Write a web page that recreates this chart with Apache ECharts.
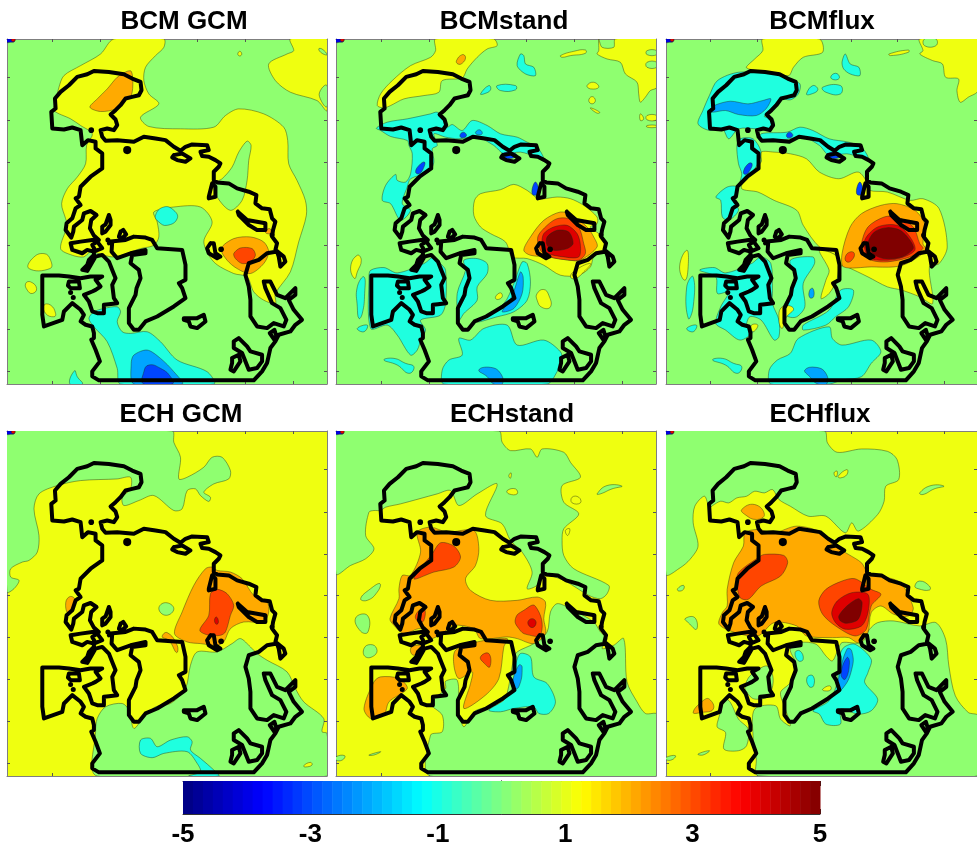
<!DOCTYPE html>
<html><head><meta charset="utf-8">
<style>html,body{margin:0;padding:0;background:#fff;overflow:hidden}#c{width:977px;height:848px}</style>
<script src="https://cdn.jsdelivr.net/npm/echarts@6/dist/echarts.min.js"></script>
</head><body><div id="c"></div>
<script>
const titles=['BCM GCM','BCMstand','BCMflux','ECH GCM','ECHstand','ECHflux'];
const cbarLabels=[-5,-3,-1,1,3,5];
// band level -> contour fill
const levelColor={'-5':'#00008f','-4':'#0000df','-3':'#0045ff','-2':'#00a5ff','-1':'#1fffdf',0:'#8fff70',1:'#efff10',2:'#ffaa00',3:'#ff4500',4:'#df0000',5:'#800000'};
const baseLevel=[0,0,0,1,1,1];
// trace origins of each panel's polygons
const origin=[[19,25],[16,25],[16,25],[19,16],[16,16],[16,14]];
const coastOrigin=[19,16];
const archOrigin=[-71,-479];
const xTicks=[136,281,426,571,716,861];
const yTicks=[116,243,369,495,621,747,873,999];

// coastline polylines
const coastMain=[155,285,152,235,165,225,163,195,180,175,205,155,230,130,260,122,280,112,325,115,370,122,395,135,420,145,423,170,415,185,395,190,375,195,360,215,345,230,330,243,345,258,350,275,340,290,320,285,300,290,305,310,315,322,350,320,400,325,430,310,465,315,495,320,520,340,540,352,555,340,575,333,620,335,625,350,600,355,605,368,625,370,645,380,660,390,655,400,640,415,640,440,650,447,685,450,710,465,745,475,768,485,765,510,785,525,808,528,815,555,825,565,818,590,815,610,830,630,825,650,850,670,855,685,840,700,835,670,830,655,800,660,775,680,745,690,735,725,745,760,750,800,750,850,770,880,800,885,820,870,850,880,858,860,840,825,815,810,795,765,790,745,810,745,830,785,855,795,885,765,885,785,865,800,880,830,905,860,885,875,870,895,835,905,825,925,810,945,800,990,785,1015,760,1042,295,1042,275,1030,275,1015,298,985,285,950,272,920];
const coastWest=[155,285,190,288,215,282,240,290,245,335,262,320,285,325,285,345,305,360,305,405,270,430,240,460,235,490,225,495];
const coastArch=[190,420,190,405,185,385,165,380,150,370,160,350,150,335,125,315,100,340,95,365,40,385,35,350,35,232,85,232,115,235,150,240,180,235,215,235,195,245,210,265,195,275,185,280,160,290,175,310,185,340,200,345,220,345,220,320,235,318,260,315,250,300,245,260,255,240,245,215,235,190,215,170,195,175,170,218,155,215,170,200,175,185,190,170,190,160,170,155,155,165,125,155,120,135,150,130,185,125,205,125,190,112,178,90,182,65,198,50,180,38,160,45,155,65,130,85,128,100,122,118,105,95,108,75,125,60,135,30,150,20,135,0];
const coastGreenland=[235,135,245,130,243,160,260,180,300,165,345,155,345,165,305,170,300,195,325,215,330,240,318,270,315,290,295,330,295,375,310,395,325,395,345,370,380,355,430,325,465,300,455,270,445,255,465,245,465,200,455,155,380,150,365,125,345,118,310,115,285,125,240,130,235,135];
const archIslands=[
 [215,85,225,78,235,50,240,65,240,80,225,100,215,105,215,85],
 [115,250,145,250,148,270,120,270,112,262,115,250],
 [270,100,278,95,287,108,275,120,265,115,270,100],
 [185,140,200,130,215,150,195,158,185,140]
];
const coastIslands=[
 [520,365,545,360,570,375,555,385,530,380,515,372,520,365],
 [625,490,635,450,645,460,645,490,625,495,625,490],
 [712,535,740,560,795,570,795,590,770,590,745,575,715,545,712,535],
 [630,630,640,630,645,660,660,670,650,675,625,660,620,645,630,630],
 [550,855,590,855,610,845,615,865,590,885,570,880,565,865,550,860,550,855],
 [700,925,715,915,740,940,750,955,785,965,785,985,770,1005,745,1010,725,960,700,945,700,925],
 [695,975,715,965,720,985,700,1015,690,1010,695,990,695,975],
 [808,900,822,890,830,915,822,920,808,900]
];
const coastDots=[[380,350,13],[272,290,9],[662,648,9],[815,605,8],[322,620,8],[210,778,8],[218,793,8]];

const cornerMark=[[-4,[0,0,22,0,22,8,10,10,0,10]],[4,[14,0,24,0,22,7,14,6]]];

const panel1=[
[1,[340,25,490,25,490,50,465,75,435,110,430,150,445,190,475,220,420,260,445,288,540,295,640,290,675,255,715,235,790,250,850,290,862,330,865,400,890,450,915,510,918,555,895,635,870,725,825,790,825,820,790,810,760,785,740,740,700,730,640,695,610,635,635,575,600,530,520,530,460,545,470,575,475,620,460,645,420,655,340,680,270,665,250,680,215,675,180,655,200,585,195,565,183,520,200,475,230,440,255,400,258,345,275,310,240,285,210,265,160,240,165,215,175,170,190,135,240,105,300,70]],
[0,[740,332,752,345,745,390,740,450,725,510,690,540,650,500,640,460,665,445,695,410,715,365]],
[1,[870,25,880,60,860,70,805,100,825,150,870,185,950,210,980,240,980,25]],
[0,[980,165,960,180,960,205,980,228]],
[0,[955,55,965,55,980,72,965,68]],
[1,[712,70,718,62,724,70,718,76]],
[2,[380,122,392,122,397,150,392,195,370,210,345,235,300,243,268,230,290,205,320,175,350,140]],
[-1,[465,555,490,530,520,540,530,565,500,585,475,575]],
[1,[85,715,95,685,130,670,150,690,148,715]],
[1,[75,760,90,755,108,775,95,790,80,780]],
[1,[130,825,150,825,165,850,160,860,135,850]],
[2,[662,655,700,625,750,620,790,635,805,665,790,700,750,730,710,715,680,690]],
[3,[700,670,720,653,755,655,765,675,750,695,725,700,705,685]],
[2,[795,603,808,595,812,607,800,610]],
[-1,[265,865,280,845,310,835,350,830,360,845,350,875,365,905,390,910,440,905,480,935,530,990,620,1025,640,1062,360,1062,350,1015,320,935,280,890]],
[-2,[392,1000,400,975,440,960,480,985,520,1025,545,1062,400,1062]],
[-3,[430,1025,445,1005,480,1015,510,1040,515,1062,430,1062]],
[-1,[208,1062,222,1022,230,1040,245,1062]]
];

const panel2=[
[1,[315,25,490,25,500,45,470,55,440,80,410,115,395,142,335,150,325,185,280,195,220,205,180,225,160,232,140,225,150,190,185,150,240,105,300,80,315,60]],
[2,[378,90,395,72,405,80,395,98,382,100]],
[1,[805,25,815,50,850,50,855,25,980,25,980,170,960,180,945,200,930,215,925,190,920,155,885,130,870,95,830,85,800,70,805,60]],
[1,[950,255,980,255,980,268,950,268]],[1,[950,285,980,285,980,290,950,290]],[1,[930,250,940,265,930,270]],
[0,[950,60,980,60,980,72,950,72]],[0,[950,95,980,95,980,110,950,110]],
[1,[690,75,730,62,765,58,765,68,720,75,695,80]],[1,[770,165,790,155,805,170,780,175]],[1,[775,210,785,198,795,210,785,220]],[1,[780,232,808,245,800,248]],
[1,[432,510,450,490,510,478,550,462,590,480,625,505,680,500,720,505,760,525,800,560,800,580,780,590,810,615,825,655,790,680,780,710,745,735,690,735,640,705,590,685,545,680,525,635,480,610,450,590,430,555]],
[2,[580,660,600,620,640,570,690,545,725,555,770,590,790,620,800,650,750,690,720,690,650,680,600,675]],
[3,[622,620,650,585,680,565,715,565,745,590,760,640,765,670,745,690,700,688,660,680,630,660]],
[4,[640,610,670,590,710,585,740,610,750,645,745,680,700,680,650,668,635,640]],
[5,[650,620,680,600,715,605,728,640,710,655,670,660,650,645]],
[1,[720,740,735,720,780,700,760,725,735,745]],
[1,[620,790,640,778,655,795,660,830,635,832,620,810]],
[1,[60,710,80,675,92,690,80,725,72,745]],
[1,[495,800,510,788,515,800,500,808]],
[-1,[137,293,170,275,230,265,300,250,320,245,345,265,350,290,365,282,395,300,425,270,470,285,510,310,560,320,590,335,620,350,640,385,620,380,570,365,520,370,490,345,440,320,385,325,345,320,310,310,320,345,305,355,310,395,295,425,240,445,230,470,215,520,240,540,210,570,180,520,155,510,165,465,195,432,200,450,225,455,240,430,245,370,235,345,230,330,180,318,150,300]],
[-3,[255,425,265,405,282,395,278,415,265,430]],
[-3,[510,375,535,365,560,375,530,385]],[-3,[605,490,615,455,625,490]],[-3,[388,315,398,305,408,315,395,322]],[-2,[435,305,448,298,455,310,440,312]],
[-1,[120,720,160,712,200,728,280,700,310,680,330,700,345,720,345,820,330,855,270,870,285,900,272,925,260,960,240,975,200,915,170,885,120,895,115,740]],
[-1,[400,690,440,685,470,700,470,730,440,770,440,810,400,850,385,870,380,790,405,720]],
[-1,[550,760,575,695,590,700,600,755,590,810,550,845,500,860,440,875,520,820]],
[-2,[548,790,570,725,578,740,575,790,550,835,515,845,535,815]],
[-1,[340,1062,335,1020,355,990,395,975,385,925,420,930,460,895,530,885,560,945,640,930,690,965,695,990,680,1025,650,1062]],
[-2,[445,1020,480,1012,510,1030,515,1062,490,1062,470,1040]],
[-1,[160,990,190,985,225,1000,250,1010,235,1030,200,1005]],
[-1,[570,70,580,75,585,100,610,110,615,135,585,130,560,105]],
[-1,[500,165,555,165,555,178,510,180]],[-1,[450,190,475,165,480,178,460,190]],
[-1,[80,770,100,740,102,790,95,850,85,865,80,830]],[-1,[80,895,110,885,100,905]]
];

const panel3=[
[1,[315,25,490,25,500,65,440,80,410,110,395,135,345,125,265,112,290,85,315,60]],
[1,[800,25,810,60,800,70,840,90,870,100,880,140,920,145,915,180,925,215,950,200,980,180,980,25]],
[0,[815,25,850,25,850,45,815,45]],
[1,[250,475,260,445,310,395,310,365,350,365,400,370,450,385,490,425,550,445,610,425,640,460,645,480,700,485,770,510,810,505,860,535,885,650,860,700,830,710,840,820,800,800,745,780,700,770,640,740,575,710,555,705,550,680,490,650,440,585,420,540,350,510,300,485]],
[1,[490,660,545,680,545,745,520,790,495,805,510,750,520,720]],
[2,[560,670,585,590,620,550,680,525,730,520,785,540,815,580,810,640,820,660,760,700,720,710,650,710,565,710]],
[3,[620,640,640,590,690,560,730,560,780,590,800,640,810,655,770,680,700,695,650,690,625,670]],
[4,[630,630,670,590,730,585,770,620,785,660,735,685,680,690,640,680]],
[5,[640,640,660,605,700,592,740,600,770,630,780,655,745,680,690,685,655,670]],
[3,[570,680,585,665,598,670,590,690,575,695]],
[-1,[115,280,130,240,150,195,175,150,240,125,345,128,400,150,430,160,425,190,400,208,370,205,345,230,320,258,345,262,350,290,320,295,300,295,240,295,210,325,190,295,150,300]],
[-2,[150,240,165,225,215,212,270,220,315,210,340,205,325,235,295,255,240,252,200,240,160,245]],
[-1,[310,310,390,305,430,290,470,300,520,325,580,335,620,350,640,385,575,370,520,375,490,345,440,320,380,328,340,328,310,330]],
[-1,[235,345,245,325,285,325,310,370,280,430,245,460,250,430,240,400]],
[-1,[170,500,205,470,235,470,225,510,240,540,210,570,190,560,185,510]],
[-1,[120,720,165,712,200,728,280,700,310,680,340,700,345,780,345,820,365,870,365,920,350,930,310,870,275,860,265,890,285,905,245,930,200,900,170,880,185,830,210,785,175,790,170,740]],
[-1,[340,1062,335,1020,360,990,400,970,425,925,520,890,530,925,560,945,650,930,680,965,650,1000,620,1040,560,1050,520,1062]],
[-1,[440,885,520,840,555,780,595,780,580,830,540,860,510,885,440,900]],
[-2,[445,1020,480,1012,510,1030,512,1062,485,1062,460,1040]],
[-1,[400,690,470,680,475,700,440,760,445,830,420,860,395,860,375,840,400,790,415,740]],
[-1,[160,990,190,985,225,1000,250,1010,235,1030,200,1005]],
[1,[58,710,80,660,85,700,75,750]],
[-1,[80,770,100,740,100,830,85,865]],[-1,[80,895,110,885,100,905]],
[-1,[560,95,570,70,585,100,612,110,615,135,585,130,565,115]],
[-1,[525,140,540,128,552,140,540,148]],[-1,[500,170,555,165,555,190,510,185]],[-1,[450,190,470,165,485,178,460,192]],
[1,[705,70,765,58,765,65,710,75]],
[1,[365,870,375,830,410,835,385,865,375,895]],[1,[280,885,300,885,285,905]],
[-3,[255,425,270,400,282,400,275,420,262,432]],[-3,[605,490,615,455,625,490]],[-3,[510,375,535,365,560,375,530,385]],[-3,[388,315,398,305,408,315,395,322]],
[-2,[460,780,470,775,472,800,460,802]]
];

const panel4=[
[0,[19,16,515,16,520,50,540,95,535,160,560,155,610,125,635,95,665,95,690,135,685,160,640,175,610,200,630,215,625,228,600,210,585,190,560,195,545,250,520,255,460,210,415,225,370,240,365,215,390,190,390,155,350,160,240,165,170,180,115,205,100,250,115,330,110,380,85,405,65,410,30,430,30,455,55,465,40,490,19,500]],
[0,[590,680,650,680,695,655,720,640,750,665,770,685,800,705,860,740,885,790,910,830,970,880,965,920,980,925,980,1053,290,1053,285,920,290,880,315,845,365,835,385,855,400,910,430,875,465,845,510,835,555,790,570,720]],
[-1,[420,985,420,945,450,940,470,965,510,945,560,935,575,950,570,975,600,1000,640,1035,655,1053,565,1053,600,1040,590,1015,560,980,490,985,455,998]],
[1,[910,1022,930,1012,935,1020,915,1026]],
[2,[522,625,545,560,580,480,615,430,635,425,650,435,690,440,725,460,760,510,800,530,805,560,790,590,730,590,690,610,670,650,650,660,600,655,560,650]],
[3,[598,615,625,570,630,505,650,492,680,505,700,540,690,570,675,620,660,630,625,630]],
[4,[642,585,648,575,654,590,648,597]],
[2,[195,540,205,515,222,520,220,545,205,565]],
[2,[485,635,500,622,530,660,528,682,505,645]],
[0,[475,550,495,532,520,550,497,570]]
];

const panel5=[
[0,[16,16,505,16,515,50,540,75,600,70,620,95,635,70,700,80,720,110,750,155,695,180,700,230,745,265,700,310,695,345,700,390,730,430,835,480,830,505,810,520,775,510,700,465,640,450,620,480,590,490,605,440,575,380,540,345,515,295,465,270,500,175,440,205,385,240,360,195,320,205,210,235,165,245,150,255,130,255,115,260,105,330,130,370,105,400,60,420,16,445]],
[0,[650,620,660,560,680,535,720,550,790,590,810,620,830,640,815,670,850,660,880,640,890,770,920,830,945,865,980,868,980,1053,300,1053,300,930,335,920,335,870,300,835,345,790,345,768,380,765,385,855,400,905,430,860,470,845,520,830,550,700,560,680,610,655]],
[2,[215,450,240,450,270,380,260,320,300,305,350,320,430,315,445,370,435,420,405,460,420,495,480,525,560,525,620,515,645,530,640,580,645,625,610,655,560,640,530,635,450,640,430,610,370,600,340,620,300,640,270,610,220,625,190,600,178,580,205,520,205,490]],
[2,[375,675,440,650,530,640,520,665,505,760,465,810,400,850,420,775,425,740,385,760,370,720]],
[2,[100,850,130,770,150,755,205,760,230,790,175,830,160,870,120,880]],
[2,[240,670,260,660,280,665,250,690]],
[3,[250,460,305,385,330,352,370,362,390,395,370,425,310,440]],
[3,[555,580,580,555,615,543,632,625,590,628,565,610]],
[4,[592,592,605,580,617,592,605,607]],
[3,[255,570,280,550,280,585,265,590]],
[3,[450,695,475,685,478,725,462,715]],
[-1,[545,790,555,720,570,685,600,695,610,755,650,775,675,830,655,865,625,865,610,845,550,850,510,860,475,855,520,825]],
[-2,[545,775,565,720,575,725,565,785,550,790]],
[0,[90,520,120,490,148,475,140,500,110,525]],[0,[75,578,110,570,112,620,90,618]],[0,[100,670,120,658,138,670,132,690,105,695]],
[0,[800,205,830,180,875,182,845,190,810,205]],[0,[16,995,42,992,35,1005,16,1005]],[0,[115,990,150,980,130,990]],
[1,[725,215,745,215,750,232,725,232]],[1,[530,195,555,190,560,205,535,205]],[1,[535,150,542,142,540,158]],[1,[705,315,718,310,712,330]]
];

const panel6=[
[0,[16,14,505,14,515,50,545,78,620,68,700,75,730,100,735,160,695,180,690,225,670,265,610,315,590,290,570,320,510,270,455,270,400,240,365,220,345,190,320,200,290,195,265,210,235,215,210,230,185,225,160,238,150,245,135,210,105,240,100,290,115,360,90,400,60,425,16,445]],
[0,[620,650,645,610,670,590,720,585,800,600,850,590,880,640,890,720,910,810,950,860,980,870,980,1050,300,1050,295,1000,285,930,290,850,355,840,370,880,400,900,385,850,370,800,400,770,415,710,400,670,430,650,480,655,510,690,530,705,548,670,560,650]],
[0,[262,775,295,735,335,725,340,800,300,820,270,805]],
[0,[175,890,200,820,215,830,240,880,270,910,265,960,240,975,195,970,200,920,175,905]],
[0,[785,480,800,465,830,480,830,492,795,488]],[0,[800,200,835,178,875,180,845,188,810,205]],[0,[52,488,70,478,70,490,55,495]],[0,[75,578,105,575,110,610,85,590]],[0,[16,995,45,990,35,1002,16,1002]],[0,[115,985,150,975,130,988]],
[1,[548,150,575,130,575,145,555,155]],[1,[535,140,545,135,542,152]],[1,[500,790,522,780,525,792,505,795]],
[2,[205,540,205,490,225,410,255,360,260,320,300,310,350,320,420,300,500,320,530,355,580,385,620,410,640,440,680,450,740,470,780,545,765,570,720,565,680,540,650,560,640,620,610,650,580,635,530,635,450,630,420,600,350,590,300,630,230,620,180,595,190,560]],
[2,[250,250,290,235,320,265,295,280,260,265]],
[2,[100,860,130,825,150,820,162,850,125,860]],
[3,[235,470,240,440,300,395,320,385,380,388,392,410,370,450,310,480,270,520,245,515]],
[3,[488,525,510,490,560,465,600,458,650,490,680,505,650,540,635,610,600,630,540,600,500,565]],
[4,[528,560,545,525,590,500,640,505,640,560,620,600,570,610,540,590]],
[5,[550,570,575,540,610,518,622,530,610,580,575,592,555,585]],
[-1,[470,855,520,825,545,770,550,700,565,665,600,655,650,700,640,740,630,770,670,820,650,855,610,865,555,850,555,895,510,895,490,865]],
[-2,[550,755,575,670,590,675,590,730,560,790,545,785]],
[-3,[557,745,575,695,583,710,570,760]],
[-1,[415,680,430,675,440,700,425,705]],[-1,[452,755,470,750,472,780,458,782]]
];

const panels=[panel1,panel2,panel3,panel4,panel5,panel6];
const gridX=[7,336,666], gridY=[39,431], gridW=320, gridH=345;
const titleCenter=[184,504,822,181,512,820], titleY=[9,402];
const mapW=961, mapH=1037;

function jet(t){const c=x=>Math.round(255*Math.max(0,Math.min(1,1.5-Math.abs(4*t-x))));return `rgb(${c(3)},${c(2)},${c(1)})`;}
const cbarN=64;
const grids=[],xAxes=[],yAxes=[],series=[],titleOpt=[];
const toPairs=(flat,o)=>{const r=[];for(let i=0;i<flat.length;i+=2)r.push([flat[i]-o[0],flat[i+1]-o[1]]);return r;};
const frame='#7f7f7f';
// closed/open coastline, joined across trace frames
const coastData=[];
const pushLine=(pairs,brk)=>{pairs.forEach(q=>coastData.push(q));if(brk)coastData.push([null,null]);};
pushLine(toPairs(coastMain,coastOrigin),false);
pushLine(toPairs(coastArch,archOrigin),false);
pushLine(toPairs(coastWest,coastOrigin).reverse(),true);
pushLine(toPairs(coastGreenland,archOrigin),true);
archIslands.forEach(l=>pushLine(toPairs(l,archOrigin),true));
coastIslands.forEach(l=>pushLine(toPairs(l,coastOrigin),true));

panels.forEach((polys,i)=>{
  const col=i%3,row=i<3?0:1;
  grids.push({left:gridX[col],top:gridY[row],width:gridW,height:gridH,show:true,backgroundColor:levelColor[baseLevel[i]],borderWidth:0});
  const tick=(vals)=>({show:true,inside:true,length:3,customValues:vals,lineStyle:{color:'#555',width:1}});
  const xa=(pos)=>({type:'value',gridIndex:i,position:pos,min:0,max:mapW,axisLabel:{show:false},splitLine:{show:false},axisLine:{show:true,onZero:false,lineStyle:{color:frame,width:1}},axisTick:tick(xTicks)});
  const ya=(pos)=>({type:'value',gridIndex:i,position:pos,min:0,max:mapH,inverse:true,axisLabel:{show:false},splitLine:{show:false},axisLine:{show:true,onZero:false,lineStyle:{color:frame,width:1}},axisTick:tick(yTicks)});
  const xi=xAxes.length,yi=yAxes.length;
  xAxes.push(xa('bottom'),xa('top'));
  yAxes.push(ya('left'),ya('right'));
  const shapes=polys.map(p=>({v:p[0],pts:toPairs(p[1],origin[i])})).concat(cornerMark.map(p=>({v:p[0],pts:toPairs(p[1],[0,0])})));
  series.push({type:'custom',xAxisIndex:xi,yAxisIndex:yi,coordinateSystem:'cartesian2d',clip:true,silent:true,z:2,
    data:shapes.map((s,k)=>[k,s.v]),
    encode:{x:[],y:[]},
    renderItem:(params,api)=>{
      const s=shapes[api.value(0)];
      return {type:'polygon',shape:{points:s.pts.map(q=>api.coord(q)),smooth:s.pts.length>6?0.3:0.5},
        style:{fill:levelColor[s.v],stroke:'rgba(30,40,20,0.7)',lineWidth:0.6}};
    }});
  series.push({type:'line',xAxisIndex:xi,yAxisIndex:yi,data:coastData,showSymbol:false,connectNulls:false,silent:true,z:5,clip:true,animation:false,
    lineStyle:{color:'#000',width:4,join:'round',cap:'round'}});
  series.push({type:'scatter',xAxisIndex:xi,yAxisIndex:yi,silent:true,z:6,
    data:coastDots.map(d=>[d[0]-coastOrigin[0],d[1]-coastOrigin[1],d[2]]),
    symbolSize:d=>d[2]/1.6,itemStyle:{color:'#000',opacity:1}});
  titleOpt.push({text:titles[i],left:titleCenter[i],top:titleY[row],textAlign:'center',padding:0,
    textStyle:{fontFamily:'"Liberation Sans",Arial,sans-serif',fontWeight:'bold',fontSize:26,color:'#000'}});
});
// colour bar
const cbarGrid=grids.length;
grids.push({left:183,top:781,width:637,height:38,show:false});
const tickVals=[-5,-4,-3,-2,-1,0,1,2,3,4,5];
xAxes.push({type:'value',gridIndex:cbarGrid,position:'bottom',min:-5,max:5,interval:1,
  axisLine:{show:true,onZero:false,lineStyle:{color:'#333'}},splitLine:{show:false},
  axisTick:{show:true,inside:true,length:5,customValues:tickVals,lineStyle:{color:'#222'}},
  axisLabel:{show:true,customValues:cbarLabels,margin:8,fontFamily:'"Liberation Sans",Arial,sans-serif',fontWeight:'bold',fontSize:26,color:'#000',formatter:v=>String(v)}});
xAxes.push({type:'value',gridIndex:cbarGrid,position:'top',min:-5,max:5,interval:1,
  axisLine:{show:true,onZero:false,lineStyle:{color:'#333'}},splitLine:{show:false},axisLabel:{show:false},
  axisTick:{show:true,inside:true,length:5,customValues:tickVals,lineStyle:{color:'#222'}}});
yAxes.push({type:'value',gridIndex:cbarGrid,min:0,max:1,axisLine:{show:true,lineStyle:{color:'#333'}},axisTick:{show:false},axisLabel:{show:false},splitLine:{show:false}});
yAxes.push({type:'value',gridIndex:cbarGrid,position:'right',min:0,max:1,axisLine:{show:true,lineStyle:{color:'#333'}},axisTick:{show:false},axisLabel:{show:false},splitLine:{show:false}});
const cbarData=[];for(let k=0;k<cbarN;k++)cbarData.push([k]);
series.push({type:'custom',xAxisIndex:xAxes.length-2,yAxisIndex:yAxes.length-2,silent:true,z:2,data:cbarData,encode:{x:[],y:[]},
  renderItem:(params,api)=>{
    const k=api.value(0),a=api.coord([-5+10*k/cbarN,1]),b=api.coord([-5+10*(k+1)/cbarN,0]);
    return {type:'rect',shape:{x:a[0],y:a[1],width:b[0]-a[0]+0.5,height:b[1]-a[1]},style:{fill:jet((k+0.5)/cbarN)}};
  }});
const chart=echarts.init(document.getElementById('c'),null,{renderer:'canvas'});
chart.setOption({animation:false,backgroundColor:'#fff',title:titleOpt,grid:grids,xAxis:xAxes,yAxis:yAxes,series:series,tooltip:{show:false}});
</script></body></html>
